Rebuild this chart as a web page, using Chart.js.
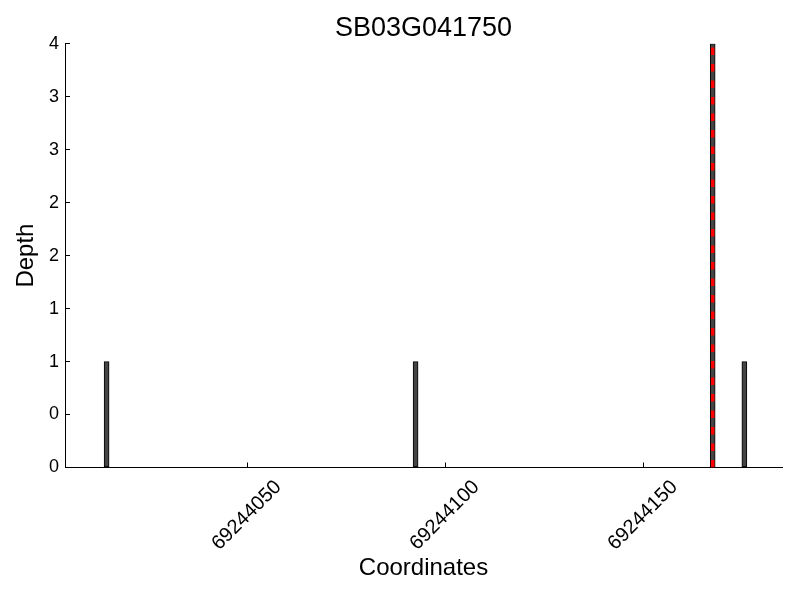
<!DOCTYPE html>
<html>
<head>
<meta charset="utf-8">
<script src="https://cdn.jsdelivr.net/npm/chart.js@4.4.1/dist/chart.umd.min.js"></script>
<style>
  body { margin: 0; background: #fff; }
  #wrap { width: 800px; height: 600px; }
</style>
</head>
<body>
<div id="wrap"><canvas id="depthChart" width="800" height="600"></canvas></div>
<script>
// ===== DATA =====
const judul = "SB03G041750";
const posisi = [69244014.5, 69244092.5, 69244167.5, 69244175.5];
const kedalaman = [1, 1, 4, 1];
const posisiPenanda = 69244167.5;   // garis merah putus-putus
const tickX = [69244050, 69244100, 69244150];
const tickY = [0, 0.5, 1, 1.5, 2, 2.5, 3, 3.5, 4];
const batasX = [69244004, 69244185];
const batasY = [0, 4];

const FONT = "'Liberation Sans', Arial, sans-serif";

// ===== CHART =====
const ctx = document.getElementById("depthChart");
new Chart(ctx, {
  type: "bar",
  data: {
    datasets: [
      {
        type: "line",
        data: [{x: posisiPenanda, y: batasY[0]}, {x: posisiPenanda, y: batasY[1]}],
        borderColor: "#ff0000",
        borderWidth: 3.5,
        borderDash: [7.5, 9],
        pointRadius: 0,
        order: 0
      },
      {
        data: posisi.map((p, i) => ({x: p, y: kedalaman[i]})),
        backgroundColor: "#444444",
        borderColor: "#000000",
        borderWidth: 1,
        borderSkipped: false,
        barThickness: 5,
        order: 1
      }
    ]
  },
  options: {
    responsive: false,
    animation: false,
    layout: { padding: { left: 0, right: 18, top: 0, bottom: 0 } },
    plugins: {
      legend: { display: false },
      tooltip: { enabled: false },
      title: {
        display: true,
        fullSize: false,   // judul di tengah area plot
        text: judul,
        color: "#000",
        font: { family: FONT, size: 27, weight: "normal", lineHeight: 1.1 },
        padding: { top: 14, bottom: 0 }
      }
    },
    scales: {
      x: {
        type: "linear",
        min: batasX[0],
        max: batasX[1],
        offset: false,
        afterBuildTicks: s => { s.ticks = tickX.map(v => ({value: v})); },
        afterFit: s => { s.height = 132.5; },
        grid: { drawOnChartArea: false, offset: false, tickLength: -5, color: "#000" },
        border: { display: true, color: "#000", width: 1 },
        ticks: {
          color: "#000",
          font: { family: FONT, size: 20 },
          minRotation: 45,
          maxRotation: 45,
          padding: 13,
          labelOffset: 31,
          callback: v => String(v)
        },
        title: {
          display: true,
          text: "Coordinates",
          color: "#000",
          font: { family: FONT, size: 24 },
          padding: { top: 0, bottom: 17 }
        }
      },
      y: {
        min: batasY[0],
        max: batasY[1],
        afterBuildTicks: s => { s.ticks = tickY.map(v => ({value: v})); },
        afterFit: s => { s.width = 65; },
        grid: { drawOnChartArea: false, tickLength: -5, color: "#000" },
        border: { display: true, color: "#000", width: 1 },
        ticks: {
          color: "#000",
          font: { family: FONT, size: 18 },
          padding: 11,
          callback: v => String(Math.trunc(v))
        },
        title: {
          display: true,
          text: "Depth",
          color: "#000",
          font: { family: FONT, size: 24 },
          padding: { top: 12, bottom: 0 }
        }
      }
    }
  }
});
</script>
</body>
</html>
